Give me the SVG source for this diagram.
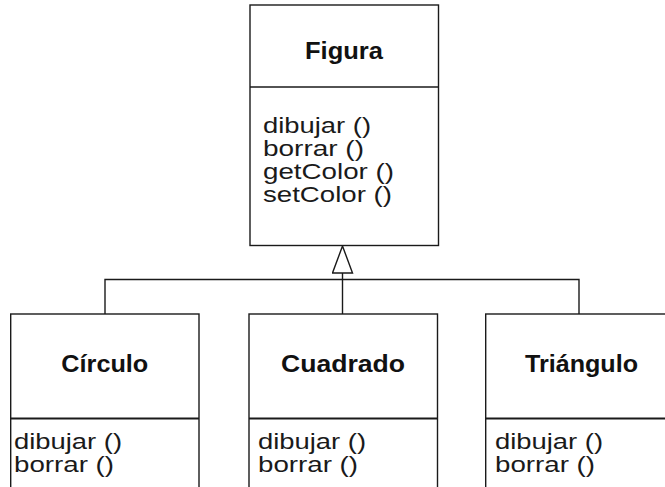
<svg xmlns="http://www.w3.org/2000/svg" width="665" height="487" viewBox="0 0 665 487">
<style>
.box{fill:#fff;stroke:#1a1a1a;stroke-width:1.4}
.div{stroke:#1a1a1a;stroke-width:1.4}
.div2{stroke:#1a1a1a;stroke-width:2.2}
.title{font-family:"Liberation Sans",Arial,sans-serif;font-weight:bold;font-size:23px;fill:#111;text-anchor:middle}
.m{font-family:"Liberation Sans",Arial,sans-serif;font-size:22.5px;fill:#1a1a1a}
.conn{fill:none;stroke:#1a1a1a;stroke-width:1.4}
</style>
<defs>
<marker id="inh" markerUnits="userSpaceOnUse" viewBox="-1 -1 29 22" refX="0" refY="10" markerWidth="29" markerHeight="22" orient="auto">
<path d="M0,0 L27,10 L0,20 Z" fill="#fff" stroke="#1a1a1a" stroke-width="1.4"/>
</marker>
</defs>
<rect width="665" height="487" fill="#fff"/>
<g id="connectors">
<path class="conn" d="M105,314 V279.5 H579 V314"/>
<line class="conn" x1="342.5" y1="314" x2="342.5" y2="273" marker-end="url(#inh)"/>
</g>
<g id="figura">
<rect class="box" x="250" y="5" width="188.5" height="240.5"/>
<line class="div" x1="250" y1="87" x2="438.5" y2="87"/>
<text class="title" x="344" y="59" textLength="78" lengthAdjust="spacingAndGlyphs">Figura</text>
<text class="m" x="263" y="132.5" textLength="108" lengthAdjust="spacingAndGlyphs">dibujar ()</text>
<text class="m" x="263" y="155.8" textLength="101" lengthAdjust="spacingAndGlyphs">borrar ()</text>
<text class="m" x="263" y="179.1" textLength="131" lengthAdjust="spacingAndGlyphs">getColor ()</text>
<text class="m" x="263" y="202.4" textLength="129" lengthAdjust="spacingAndGlyphs">setColor ()</text>
</g>
<g id="circulo">
<rect class="box" x="10.7" y="314" width="188.3" height="190"/>
<line class="div2" x1="10.7" y1="418.5" x2="199" y2="418.5"/>
<text class="title" x="104.8" y="371.7" textLength="87" lengthAdjust="spacingAndGlyphs">Círculo</text>
<text class="m" x="14" y="448.8" textLength="108" lengthAdjust="spacingAndGlyphs">dibujar ()</text>
<text class="m" x="14" y="472.2" textLength="100" lengthAdjust="spacingAndGlyphs">borrar ()</text>
</g>
<g id="cuadrado">
<rect class="box" x="249" y="314" width="188.5" height="190"/>
<line class="div2" x1="249" y1="418.5" x2="437.5" y2="418.5"/>
<text class="title" x="343" y="371.7" textLength="124" lengthAdjust="spacingAndGlyphs">Cuadrado</text>
<text class="m" x="258" y="448.8" textLength="108" lengthAdjust="spacingAndGlyphs">dibujar ()</text>
<text class="m" x="258" y="472.2" textLength="100" lengthAdjust="spacingAndGlyphs">borrar ()</text>
</g>
<g id="triangulo">
<rect class="box" x="485.7" y="314" width="200" height="190"/>
<line class="div2" x1="485.7" y1="418.5" x2="670" y2="418.5"/>
<text class="title" x="581.5" y="371.7" textLength="113" lengthAdjust="spacingAndGlyphs">Triángulo</text>
<text class="m" x="495" y="448.8" textLength="108" lengthAdjust="spacingAndGlyphs">dibujar ()</text>
<text class="m" x="495" y="472.2" textLength="100" lengthAdjust="spacingAndGlyphs">borrar ()</text>
</g>
</svg>
